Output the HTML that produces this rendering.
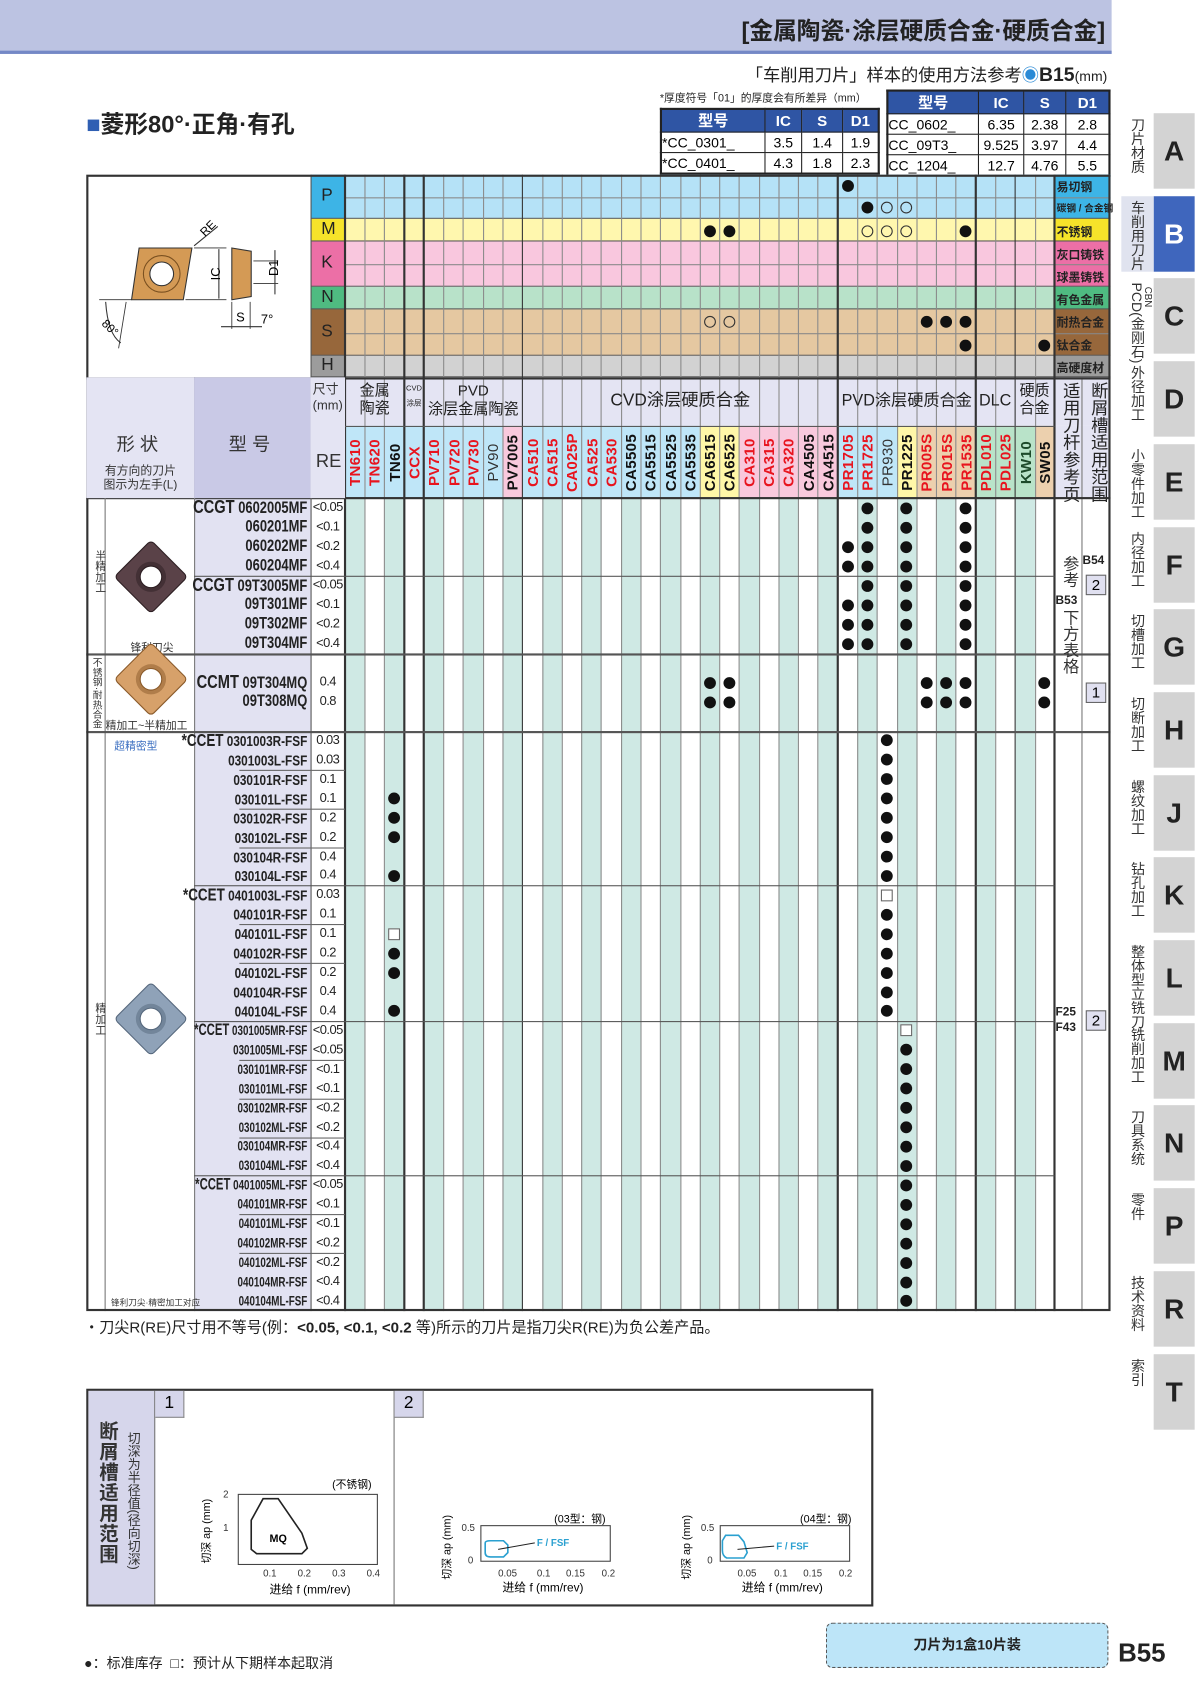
<!DOCTYPE html>
<html><head><meta charset="utf-8">
<style>
html,body{margin:0;padding:0;background:#fff;}
body{width:1200px;height:1697px;overflow:hidden;position:relative;font-family:"Liberation Sans","Noto Sans CJK SC",sans-serif;}
#c{position:absolute;left:0;top:0;width:1113px;height:1574px;transform:scale(1.0782);transform-origin:0 0;}
.a{position:absolute;}
.t{position:absolute;white-space:nowrap;}
.vt{position:absolute;writing-mode:vertical-rl;white-space:nowrap;}
table.s{position:absolute;border-collapse:collapse;font-size:13px;}
table.s td{border:1px solid #222;text-align:center;padding:0;height:18px;}
table.s tr.h td{background:#2f55a4;color:#fff;font-weight:bold;font-size:14px;}
</style></head><body>
<div id="c">
<div class="a" style="left:0;top:0;width:1031px;height:47px;background:#bcc3e2;border-bottom:3px solid #7488c6;"></div>
<div class="t" style="right:88px;top:11px;font-size:22px;font-weight:bold;color:#222;">[金属陶瓷·涂层硬质合金·硬质合金]</div>
<div class="t" style="right:86px;top:56px;font-size:16px;color:#222;">「车削用刀片」样本的使用方法参考<span style="color:#2a8ad6">◉</span><b style="font-size:18px">B15</b><span style="font-size:13px">(mm)</span></div>
<div class="t" style="left:612px;top:82px;font-size:10px;color:#222;">*厚度符号「01」的厚度会有所差异（mm）</div>
<div class="t" style="left:80px;top:98px;font-size:22px;font-weight:bold;color:#222;"><span style="color:#2f5fb3">■</span>菱形80°·正角·有孔</div>

<table class="s" style="left:612px;top:100px;width:204px;border:2px solid #222;">
<tr class="h"><td style="width:95px">型号</td><td style="width:33px">IC</td><td style="width:37px">S</td><td>D1</td></tr>
<tr><td style="text-align:left">*CC_0301_</td><td>3.5</td><td>1.4</td><td>1.9</td></tr>
<tr><td style="text-align:left">*CC_0401_</td><td>4.3</td><td>1.8</td><td>2.3</td></tr>
</table>
<table class="s" style="left:822px;top:83px;width:208px;border:2px solid #222;">
<tr class="h"><td style="width:83px">型号</td><td style="width:41px">IC</td><td style="width:38px">S</td><td>D1</td></tr>
<tr><td style="text-align:left">CC_0602_</td><td>6.35</td><td>2.38</td><td>2.8</td></tr>
<tr><td style="text-align:left">CC_09T3_</td><td>9.525</td><td>3.97</td><td>4.4</td></tr>
<tr><td style="text-align:left">CC_1204_</td><td>12.7</td><td>4.76</td><td>5.5</td></tr>
</table>

<svg class="a" style="left:80px;top:162px" width="208" height="188" viewBox="80 162 208 188">
<polygon points="129,230 178,230 170,278 122,278" fill="#d49a55" stroke="#333" stroke-width="1"/>
<circle cx="150" cy="254" r="17" fill="none" stroke="#7a5020" stroke-width="1"/>
<circle cx="150" cy="254" r="11" fill="#fff" stroke="#333"/>
<polygon points="215,230 233,233 233,275 215,278" fill="#d49a55" stroke="#333"/>
<line x1="180" y1="228" x2="202" y2="210" stroke="#333"/><text x="186" y="218" font-size="11" transform="rotate(-45 190 214)">RE</text>
<line x1="180" y1="230" x2="210" y2="230" stroke="#333" stroke-width=".8"/><line x1="172" y1="278" x2="210" y2="278" stroke="#333" stroke-width=".8"/>
<line x1="203" y1="231" x2="203" y2="277" stroke="#333"/><text x="196" y="260" font-size="12" transform="rotate(-90 200 256)">IC</text>
<line x1="235" y1="242" x2="258" y2="242" stroke="#333" stroke-width=".8"/><line x1="235" y1="263" x2="258" y2="263" stroke="#333" stroke-width=".8"/>
<line x1="255" y1="232" x2="255" y2="273" stroke="#333"/><text x="250" y="256" font-size="12" transform="rotate(-90 254 252)">D1</text>
<line x1="215" y1="280" x2="215" y2="305" stroke="#333" stroke-width=".8"/><line x1="232" y1="280" x2="232" y2="305" stroke="#333" stroke-width=".8"/>
<line x1="205" y1="303" x2="243" y2="303" stroke="#333"/><text x="219" y="298" font-size="12">S</text>
<text x="242" y="300" font-size="12">7°</text>
<line x1="92" y1="278" x2="122" y2="278" stroke="#333" stroke-width=".8"/><line x1="117" y1="280" x2="110" y2="323" stroke="#333" stroke-width=".8"/>
<path d="M98 280 Q100 310 112 318" fill="none" stroke="#333"/><text x="96" y="305" font-size="11" transform="rotate(45 100 300)">80°</text>
</svg>

<div id="g"></div>

<div class="a" style="left:80px;top:350px;width:100px;height:112px;background:#e4e4f3;"></div>
<div class="a" style="left:180px;top:350px;width:108px;height:112px;background:#c9c9e6;"></div>
<div class="a" style="left:288px;top:350px;width:32px;height:112px;background:#e4e4f3;"></div>
<div class="t" style="left:108px;top:398px;font-size:17px;color:#333;">形 状</div>
<div class="t" style="left:96px;top:431px;font-size:11px;color:#333;line-height:13px;text-align:center;">有方向的刀片<br>图示为左手(L)</div>
<div class="t" style="left:212px;top:398px;font-size:17px;color:#333;">型 号</div>
<div class="t" style="left:290px;top:354px;font-size:12px;color:#333;line-height:15px;">尺寸<br>(mm)</div>
<div class="t" style="left:293px;top:418px;font-size:17px;color:#333;">RE</div>

<div class="t" style="left:78px;top:1221px;font-size:14px;color:#222;">・刀尖R(RE)尺寸用不等号(例：<b>&lt;0.05, &lt;0.1, &lt;0.2</b> 等)所示的刀片是指刀尖R(RE)为负公差产品。</div>

<div class="a" style="left:80px;top:1288px;width:726px;height:198px;border:2px solid #333;"></div>
<div class="a" style="left:82px;top:1290px;width:61px;height:198px;background:#d6d6eb;border-right:1px solid #777;"></div>
<div class="vt" style="left:87px;top:1318px;font-size:18px;font-weight:bold;color:#333;letter-spacing:1px;">断屑槽适用范围</div>
<div class="vt" style="left:116px;top:1328px;font-size:12px;color:#333;">切深为半径值(径向切深)</div>
<div class="a" style="left:365px;top:1290px;width:1px;height:198px;background:#777;"></div>
<div class="a" style="left:144px;top:1290px;width:26px;height:24px;background:#d6d6eb;border-right:1px solid #888;border-bottom:1px solid #888;font-size:16px;text-align:center;line-height:24px;">1</div>
<div class="a" style="left:366px;top:1290px;width:26px;height:24px;background:#d6d6eb;border-right:1px solid #888;border-bottom:1px solid #888;font-size:16px;text-align:center;line-height:24px;">2</div>

<svg class="a" style="left:0;top:0" width="1113" height="1574" font-family="Liberation Sans, Noto Sans CJK SC, sans-serif">
<rect x="221" y="1386" width="129" height="65" fill="none" stroke="#444"/>
<path d="M233 1437 L233 1410 L244 1390 L258 1390 L280 1422 L285 1436 L280 1441 L238 1441 Z" fill="none" stroke="#222" stroke-width="1.5"/>
<text x="250" y="1430" font-size="10" font-weight="bold">MQ</text>
<text x="308" y="1380" font-size="10">(不锈钢)</text>
<g font-size="9" fill="#333"><text x="207" y="1389">2</text><text x="207" y="1420">1</text>
<text x="244" y="1462">0.1</text><text x="276" y="1462">0.2</text><text x="308" y="1462">0.3</text><text x="340" y="1462">0.4</text></g>
<text x="250" y="1478" font-size="11">进给 f (mm/rev)</text>
<text transform="translate(195 1450) rotate(-90)" font-size="10">切深 ap (mm)</text>
<rect x="446" y="1415" width="120" height="33" fill="none" stroke="#444"/>
<path d="M450 1431 Q450 1429 455 1429 L467 1429 L471 1433 L471 1440 L467 1444 L455 1444 Q450 1444 450 1440 Z" fill="none" stroke="#2aa0d0" stroke-width="1.5"/>
<line x1="462" y1="1437" x2="496" y2="1431" stroke="#222"/><text x="498" y="1434" font-size="9" fill="#2aa0d0" font-weight="bold">F / FSF</text>
<text x="514" y="1412" font-size="10">(03型：钢)</text>
<g font-size="9" fill="#333"><text x="428" y="1420">0.5</text><text x="434" y="1450">0</text>
<text x="462" y="1462">0.05</text><text x="498" y="1462">0.1</text><text x="525" y="1462">0.15</text><text x="558" y="1462">0.2</text></g>
<text x="466" y="1476" font-size="11">进给 f (mm/rev)</text>
<text transform="translate(418 1465) rotate(-90)" font-size="10">切深 ap (mm)</text>
<rect x="668" y="1415" width="120" height="33" fill="none" stroke="#444"/>
<path d="M670 1429 L673 1424 L685 1424 L690 1430 L693 1440 L690 1445 L674 1445 Q670 1443 670 1438 Z" fill="none" stroke="#2aa0d0" stroke-width="1.5"/>
<line x1="684" y1="1437" x2="718" y2="1434" stroke="#222"/><text x="720" y="1437" font-size="9" fill="#2aa0d0" font-weight="bold">F / FSF</text>
<text x="742" y="1412" font-size="10">(04型：钢)</text>
<g font-size="9" fill="#333"><text x="650" y="1420">0.5</text><text x="656" y="1450">0</text>
<text x="684" y="1462">0.05</text><text x="718" y="1462">0.1</text><text x="745" y="1462">0.15</text><text x="778" y="1462">0.2</text></g>
<text x="688" y="1476" font-size="11">进给 f (mm/rev)</text>
<text transform="translate(640 1465) rotate(-90)" font-size="10">切深 ap (mm)</text>
</svg>

<div class="t" style="left:78px;top:1532px;font-size:13px;color:#222;">●：标准库存 &nbsp;□：预计从下期样本起取消</div>
<div class="a" style="left:766px;top:1505px;width:260px;height:40px;background:#bde5f8;border:1.5px dashed #555;border-radius:6px;text-align:center;line-height:40px;font-size:13px;font-weight:bold;color:#222;">刀片为1盒10片装</div>
<div class="t" style="left:1037px;top:1520px;font-size:24px;font-weight:bold;color:#222;">B55</div>

<div id="tabs"></div>
</div>

<script>
var g=document.getElementById('g');
function R(x,y,w,h,bg,extra){var d=document.createElement('div');d.className='a';d.style.cssText='left:'+x+'px;top:'+y+'px;width:'+w+'px;height:'+h+'px;background:'+bg+';'+(extra||'');g.appendChild(d);return d;}
function T(x,y,s,css){var d=document.createElement('div');d.className='t';d.style.cssText='left:'+x+'px;top:'+y+'px;'+(css||'');d.innerHTML=s;g.appendChild(d);return d;}
var X0=320,CW=18.28,NC=36;
function cx(i){return X0+(i+0.5)*CW;}
var mats=[['P',162,203,'#b5e2f7','#3db4e6',['易切钢','碳钢 / 合金钢']],['M',203,224,'#fff7ae','#f6e32a',['不锈钢']],['K',224,266,'#f9c7de','#ec6fa6',['灰口铸铁','球墨铸铁']],['N',266,287,'#b8e2c9','#4fbb81',['有色金属']],['S',287,330,'#e5c8a1','#97673b',['耐热合金','钛合金']],['H',330,350,'#d2d2d2','#9c9c9c',['高硬度材']]];
mats.forEach(function(m){
 R(320,m[1],658,m[2]-m[1],m[3]);
 R(288,m[1],32,m[2]-m[1],m[4]);
 R(978,m[1],52,m[2]-m[1],m[4]);
 T(298,(m[1]+m[2])/2-10,m[0],'font-size:16px;color:#222;');
 var n=m[5].length,h=(m[2]-m[1])/n;
 m[5].forEach(function(s,k){T(980,m[1]+k*h+h/2-7,s,'font-size:'+(s.length>4?9:11)+'px;font-weight:bold;color:#222;');
  if(k>0)R(320,m[1]+k*h,710,1,'#888');});
 R(288,m[2]-1,742,1,'#555');
});
var names=['TN610','TN620','TN60','CCX','PV710','PV720','PV730','PV90','PV7005','CA510','CA515','CA025P','CA525','CA530','CA5505','CA5515','CA5525','CA5535','CA6515','CA6525','CA310','CA315','CA320','CA4505','CA4515','PR1705','PR1725','PR930','PR1225','PR005S','PR015S','PR1535','PDL010','PDL025','KW10','SW05'];
var LB='#bfe6f8',PK='#f9c9dd',YE='#fff7a8',TA='#ecd0ae',GR='#b9e3c9';
var bgs=[LB,LB,LB,LB,LB,LB,LB,LB,PK,LB,LB,LB,LB,LB,LB,LB,LB,LB,YE,YE,PK,PK,PK,PK,PK,LB,LB,LB,YE,TA,TA,TA,GR,GR,GR,TA];
var red=[0,1,3,4,5,6,9,10,11,12,13,20,21,22,25,26,29,30,31,32,33];
R(320,350,710,45,'#e4e4f3');
R(978,395,52,67,'#e4e4f3');
for(var i=0;i<NC;i++){
 var x=X0+i*CW;
 R(x,395,CW,67,bgs[i]);
 if(i%2==0)R(x,462,CW,754,'#cfe9e4');
 var col=red.indexOf(i)>=0?'#e8141e':(i==34?'#1d4a2a':'#111');
 var fw=(i==7||i==27)?'normal':'bold';
 T(x+CW/2-33,421,names[i],'width:66px;text-align:center;font-size:14px;font-weight:'+fw+';color:'+(fw=='normal'?'#333':col)+';transform:rotate(-90deg);letter-spacing:0.3px;');
}
for(var i=0;i<=NC;i++){
 var x=X0+i*CW;
 var thick=[0,3,4,9,25,32,34,36].indexOf(i)>=0;
 R(x-(thick?0.7:0.25),162,thick?1.5:0.6,1054,thick?'#333':'#8a8a8a');
}
R(1003,350,1,866,'#777');
function GH(x1,x2,s,css){T(x1,354,s,'width:'+(x2-x1)+'px;text-align:center;white-space:normal;color:#222;'+css);}
GH(320,375,'金属<br>陶瓷','font-size:14px;line-height:16px;');
GH(375,393,'CVD<br>涂层','font-size:7px;line-height:14px;');
GH(393,485,'PVD<br>涂层金属陶瓷','font-size:14px;line-height:17px;');
GH(485,777,'CVD涂层硬质合金','font-size:16px;line-height:36px;');
GH(777,905,'PVD涂层硬质合金','font-size:15px;line-height:36px;');
GH(905,941,'DLC','font-size:15px;line-height:36px;');
GH(941,978,'硬质<br>合金','font-size:14px;line-height:16px;');
T(982,354,'适用刀杆参考页','writing-mode:vertical-rl;font-size:16px;color:#222;line-height:18px;');
T(1008,354,'断屑槽适用范围','writing-mode:vertical-rl;font-size:16px;color:#222;line-height:18px;');
R(320,395,658,1,'#555');
R(180,462,108,754,'#e2e2f2');
R(80,350,950,2,'#333');R(80,461,950,2,'#333');
R(180,350,1,866,'#777');R(288,162,1,1054,'#555');R(97,462,1,754,'#777');
R(80,606,950,1.5,'#555');R(80,678,950,1.5,'#555');
R(180,534,798,1,'#555');
T(84,510,'半精加工','writing-mode:vertical-rl;font-size:10px;color:#333;');
T(84,610,'不锈钢·耐热合金','writing-mode:vertical-rl;font-size:9px;color:#333;line-height:11px;');
T(84,930,'精加工','writing-mode:vertical-rl;font-size:10px;color:#333;');
T(121,592,'锋利刀尖','font-size:10px;color:#333;');
T(98,664,'精加工~半精加工','font-size:10px;color:#333;');
T(106,683,'超精密型','font-size:10px;color:#3a6ec0;');
T(103,1203,'锋利刀尖·精密加工对应','font-size:8px;color:#333;');
var sv='<svg width="80" height="80" viewBox="-40 -40 80 80"><g transform="rotate(45)">';
function ins(x,y,c1,c2){var d=R(x-40,y-40,80,80,'transparent');d.innerHTML=sv+'<rect x="-24" y="-24" width="48" height="48" rx="4" fill="'+c1+'" stroke="'+c2+'"/><circle r="14" fill="'+c2+'" opacity=".5"/></g><circle r="10" fill="#fff" stroke="'+c2+'"/></svg>';}
ins(140,535,'#5a4248','#2c1e22');ins(140,630,'#d7a16a','#8a5a2a');ins(140,945,'#8fa2b8','#55677c');
function model(y,h,pre,code,re,fs,sx){
 var s=pre?'<span style="font-size:'+(fs+2)+'px">'+pre+'</span> '+code:code;
 T(80,y+h/2-9,s,'width:205px;text-align:right;font-size:'+fs+'px;font-weight:bold;color:#222;line-height:18px;transform:scaleX('+sx+');transform-origin:right center;');
 T(288,y+h/2-8,re,'width:32px;text-align:center;font-size:12px;color:#222;letter-spacing:-0.5px;');
}
var g1=[['CCGT','0602005MF','&lt;0.05'],['','060201MF','&lt;0.1'],['','060202MF','&lt;0.2'],['','060204MF','&lt;0.4'],['CCGT','09T3005MF','&lt;0.05'],['','09T301MF','&lt;0.1'],['','09T302MF','&lt;0.2'],['','09T304MF','&lt;0.4']];
g1.forEach(function(r,k){model(462+18*k,18,r[0],r[1],r[2],15,0.8);});
model(624,18,'CCMT','09T304MQ','0.4',15,0.8);model(642,18,'','09T308MQ','0.8',15,0.8);
var g3=[['*CCET','0301003R-FSF','0.03'],['','0301003L-FSF','0.03'],['','030101R-FSF','0.1'],['','030101L-FSF','0.1'],['','030102R-FSF','0.2'],['','030102L-FSF','0.2'],['','030104R-FSF','0.4'],['','030104L-FSF','0.4'],
['*CCET','0401003L-FSF','0.03'],['','040101R-FSF','0.1'],['','040101L-FSF','0.1'],['','040102R-FSF','0.2'],['','040102L-FSF','0.2'],['','040104R-FSF','0.4'],['','040104L-FSF','0.4'],
['*CCET','0301005MR-FSF','&lt;0.05'],['','0301005ML-FSF','&lt;0.05'],['','030101MR-FSF','&lt;0.1'],['','030101ML-FSF','&lt;0.1'],['','030102MR-FSF','&lt;0.2'],['','030102ML-FSF','&lt;0.2'],['','030104MR-FSF','&lt;0.4'],['','030104ML-FSF','&lt;0.4'],
['*CCET','0401005ML-FSF','&lt;0.05'],['','040101MR-FSF','&lt;0.1'],['','040101ML-FSF','&lt;0.1'],['','040102MR-FSF','&lt;0.2'],['','040102ML-FSF','&lt;0.2'],['','040104MR-FSF','&lt;0.4'],['','040104ML-FSF','&lt;0.4']];
var RH=17.93;
g3.forEach(function(r,k){var y=678+RH*k;var m=r[1].indexOf('M')>=0;model(y,RH,r[0],r[1],r[2],m?13:14,m?0.7:0.78);
 if(k>0&&r[0])R(180,y,798,1,'#555');
});
[2,4,6,10,12,17,19,21,25,27].forEach(function(k){R(222,678+RH*k,98,1,'#666');});
function dot(i,y,t){var s=t=='sq'?'border:1px solid #666;background:#fff;':(t=='o'?'border:1px solid #333;border-radius:50%;':'background:#111;border-radius:50%;');
 var w=t=='d'?11:9;R(cx(i)-w/2-(t=='d'?0:1),y-w/2-(t=='d'?0:1),w,w,'transparent',s);}
dot(25,172,'d');dot(26,192,'d');dot(27,192,'o');dot(28,192,'o');
dot(18,214,'d');dot(19,214,'d');dot(26,214,'o');dot(27,214,'o');dot(28,214,'o');dot(31,214,'d');
dot(18,298,'o');dot(19,298,'o');dot(29,298,'d');dot(30,298,'d');dot(31,298,'d');dot(31,320,'d');dot(35,320,'d');
for(var k=0;k<8;k++){var y=471+18*k;dot(26,y,'d');dot(28,y,'d');dot(31,y,'d');if([2,3,5,6,7].indexOf(k)>=0)dot(25,y,'d');}
[633,651].forEach(function(y){[18,19,29,30,31,35].forEach(function(i){dot(i,y,'d');});});
for(var k=0;k<30;k++){var y=678+RH*k+RH/2;
 if(k<15)dot(27,y,k==8?'sq':'d');
 if([3,4,5,7,11,12,14].indexOf(k)>=0)dot(2,y,'d');
 if(k==10)dot(2,y,'sq');
 if(k==15)dot(28,y,'sq'); else if(k>15)dot(28,y,'d');
}
T(982,515,'参考','writing-mode:vertical-rl;font-size:15px;color:#333;');
T(979,551,'B53','font-size:11px;font-weight:bold;color:#222;');
T(982,565,'下方表格','writing-mode:vertical-rl;font-size:15px;color:#333;');
T(1004,514,'B54','font-size:11px;font-weight:bold;color:#222;');
function bx(y,s){var d=R(1007,y,17,17,'#e0e0f0','border:1px solid #666;font-size:14px;text-align:center;line-height:17px;');d.innerHTML=s;}
bx(533,'2');bx(633,'1');bx(937,'2');
T(979,932,'F25<br>F43','font-size:11px;font-weight:bold;color:#222;line-height:14px;');
R(80,162,950,1054,'transparent','border:2px solid #333;box-sizing:border-box;');
var tabs=['刀片材质','车削用刀片','PCD(金刚石)','外径加工','小零件加工','内径加工','切槽加工','切断加工','螺纹加工','钻孔加工','整体型立铣刀','铣削加工','刀具系统','零件','技术资料','索引'];
var L=['A','B','C','D','E','F','G','H','J','K','L','M','N','P','R','T'];
var tb=document.getElementById('tabs');
for(var i=0;i<16;i++){var y=105+i*76.7;
 var act=i==1;
 var h='<div class="a" style="left:1070px;top:'+y+'px;width:38px;height:70px;background:'+(act?'#3f66bd':'#d3d3d3')+';color:'+(act?'#fff':'#222')+';font-size:26px;font-weight:bold;text-align:center;line-height:70px;">'+L[i]+'</div>';
 if(act)h+='<div class="a" style="left:1040px;top:'+y+'px;width:30px;height:70px;background:#e0e3ef;"></div>';
 h+='<div class="vt" style="left:1046px;top:'+(y+4)+'px;font-size:13px;color:#333;line-height:16px;">'+tabs[i]+'</div>';
 if(i==2)h+='<div class="vt" style="left:1060px;top:'+(y+8)+'px;font-size:9px;color:#333;">CBN</div>';
 tb.innerHTML+=h;}
</script>
</body></html>
